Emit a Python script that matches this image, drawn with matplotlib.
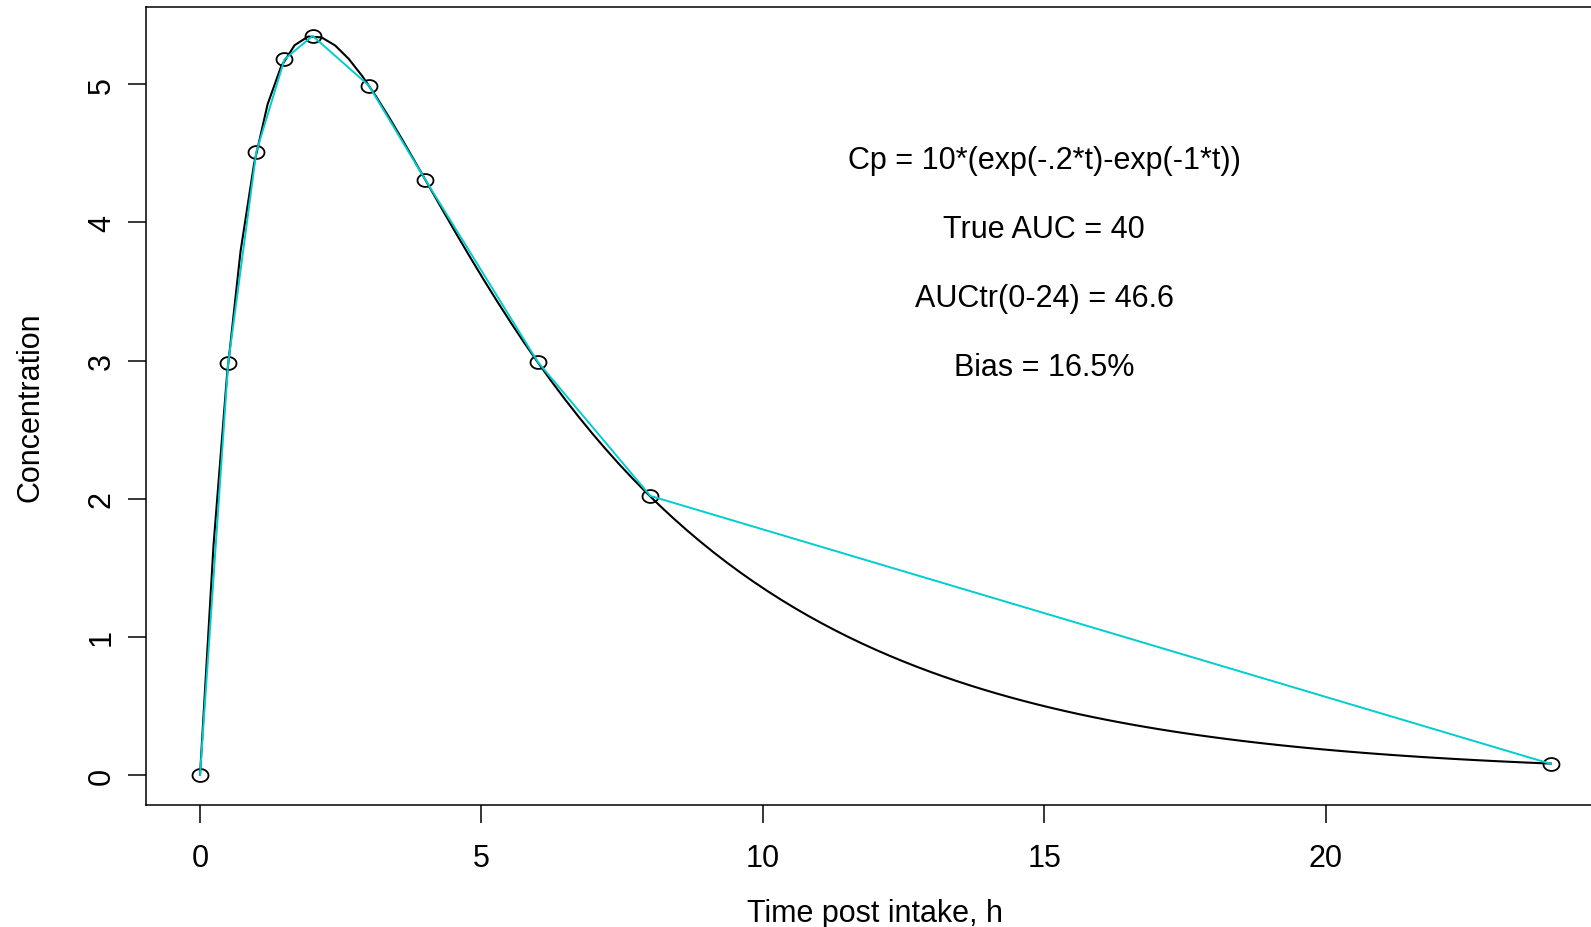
# %% Imports
import numpy as np
import matplotlib

matplotlib.use("Agg")
import matplotlib.pyplot as plt
from matplotlib.path import Path

# %% data
# sampling times (h) and measured concentrations, read off the chart
sample_times = [0, 0.5, 1, 1.5, 2, 3, 4, 6, 8, 24]
sample_conc = [0.0, 2.98, 4.51, 5.18, 5.35, 4.99, 4.31, 2.99, 2.02, 0.08]

# model stated on the chart: Cp = 10*(exp(-.2*t)-exp(-1*t))
dose_coef = 10
k_elim = 0.2
k_abs = 1.0
curve_times = np.linspace(0, 24, 101)
curve_conc = dose_coef * (np.exp(-k_elim * curve_times) - np.exp(-k_abs * curve_times))

annotation_lines = [
    "Cp = 10*(exp(-.2*t)-exp(-1*t))",
    "True AUC = 40",
    "AUCtr(0-24) = 46.6",
    "Bias = 16.5%",
]
annotation_y = [4.5, 4.0, 3.5, 3.0]
annotation_x = 15

x_ticks = [0, 5, 10, 15, 20]
y_ticks = [0, 1, 2, 3, 4, 5]

# %% style
plt.rcParams["font.family"] = ["Liberation Sans", "DejaVu Sans"]
font_size = 22
line_col = "#00CDCD"  # R's cyan3

# slightly wide ellipse, like the stretched circles in the original
theta = np.linspace(0, 2 * np.pi, 60)
ellipse = Path(np.column_stack([1.24 * np.cos(theta), np.sin(theta)]), closed=True)

# %% figure
W, H = 1591, 928
fig = plt.figure(figsize=(W / 100, H / 100), dpi=100)
# box runs slightly past the right edge of the picture, as in the reference
left, right, top, bottom = 146, 1605, 8, 805.5
ax = fig.add_axes([left / W, 1 - bottom / H, (right - left) / W, (bottom - top) / H])

ax.plot(sample_times, sample_conc, linestyle="none", marker=ellipse,
        markersize=11.5, markerfacecolor="none", markeredgecolor="black",
        markeredgewidth=1.3, zorder=3)
ax.plot(curve_times, curve_conc, color="black", linewidth=1.5, zorder=2)
ax.plot(sample_times, sample_conc, color=line_col, linewidth=1.4, zorder=4)

for s, y in zip(annotation_lines, annotation_y):
    ax.annotate(s, (annotation_x, y), xytext=(0, -2.5), textcoords="offset points",
                ha="center", va="center_baseline", fontsize=font_size)

# R style 4% padding
ymax = curve_conc.max()
ax.set_xlim(-0.96, 24.96)
ax.set_ylim(-0.04 * ymax, 1.04 * ymax)

ax.set_xticks(x_ticks)
ax.set_yticks(y_ticks)
ax.tick_params(direction="out", length=13, width=1.1, labelsize=font_size)
ax.tick_params(axis="x", pad=15)
ax.tick_params(axis="y", pad=8)
plt.setp(ax.get_yticklabels(), rotation=90, va="center")

for spine in ax.spines.values():
    spine.set_linewidth(1.1)

ax.set_xlabel("Time post intake, h", fontsize=font_size)
ax.set_ylabel("Concentration", fontsize=font_size)
ax.xaxis.set_label_coords(0.5, -0.1167)
ax.yaxis.set_label_coords(-0.069, 0.5)

fig.savefig("out.png", dpi=100)
